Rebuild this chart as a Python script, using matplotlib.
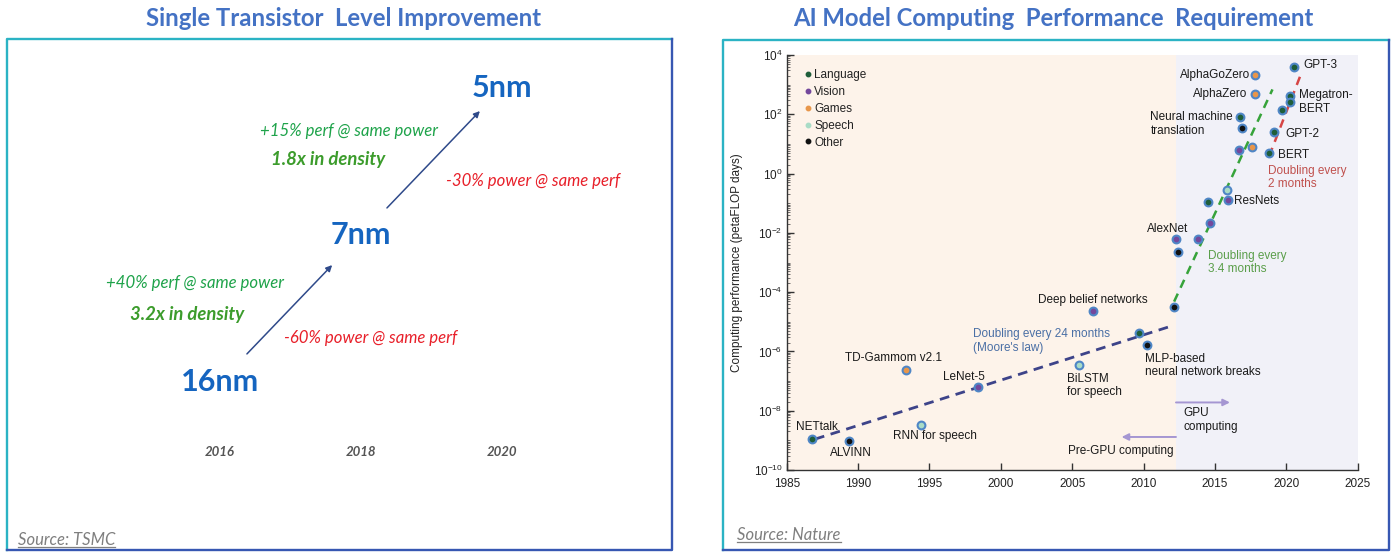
import matplotlib
matplotlib.use("Agg")
import matplotlib.pyplot as plt
from matplotlib.lines import Line2D
import numpy as np

# ---------------- data ----------------
# Left panel (TSMC)
nodes = ["16nm", "7nm", "5nm"]
node_years = [2016, 2018, 2020]
node_levels = [0, 1, 2]
perf_gain = ["+40% perf @ same power", "+15% perf @ same power"]
density_gain = ["3.2x in density", "1.8x in density"]
power_gain = ["-60% power @ same perf", "-30% power @ same perf"]
year_labels = ["2016", "2018", "2020"]

# Right panel (Nature) - petaFLOP days
language_years = [1986.79, 2009.69, 2014.50, 2016.74, 2018.80, 2019.15, 2019.71, 2020.24, 2020.24, 2020.55]
language_vals = [1.07e-9, 4.1e-6, 0.11, 83, 5.0, 26, 138, 427, 263, 4070]
vision_years = [1998.38, 2006.43, 2012.24, 2013.82, 2014.64, 2015.92, 2016.65]
vision_vals = [6.3e-8, 2.3e-5, 6.3e-3, 6.3e-3, 0.021, 0.13, 6.2]
games_years = [1993.33, 2017.58, 2017.84, 2017.79]
games_vals = [2.3e-7, 7.8, 468, 2140]
speech_years = [1994.38, 2005.45, 2015.81]
speech_vals = [3.4e-9, 3.5e-7, 0.28]
other_years = [1989.36, 2010.25, 2012.14, 2012.42, 2016.86]
other_vals = [9.8e-10, 1.66e-6, 3.2e-5, 2.3e-3, 34]

moore_years = [1986.98, 2011.71]
moore_vals = [1.1e-9, 6.6e-6]
gpu_trend_years = [2012.14, 2019.03]
gpu_trend_vals = [4.8e-5, 690]
recent_trend_years = [2018.80, 2021.06]
recent_trend_vals = [3.9, 2500]
gpu_start_year = 2012.27

categories = ["Language", "Vision", "Games", "Speech", "Other"]
cat_colors = ["#1f5e3a", "#74489c", "#e8964a", "#a9dcc6", "#111111"]

# ---------------- figure ----------------
W, H = 1394, 557
fig = plt.figure(figsize=(W / 100, H / 100), dpi=100)
plt.rcParams["mathtext.fontset"] = "custom"
plt.rcParams["mathtext.rm"] = "Liberation Sans"
plt.rcParams["mathtext.it"] = "Liberation Sans:italic"
plt.rcParams["mathtext.bf"] = "Liberation Sans:bold"


def fx(px):
    return px / W


def fy(py):
    return 1 - py / H


TEAL = "#2bb3c4"
BLUE = "#3757b2"


def frame(x0, y0, x1, y1):
    fig.add_artist(Line2D([fx(x0), fx(x0), fx(x1)], [fy(y1), fy(y0), fy(y0)],
                          color=TEAL, lw=1.7, transform=fig.transFigure))
    fig.add_artist(Line2D([fx(x0), fx(x1), fx(x1)], [fy(y1), fy(y1), fy(y0)],
                          color=BLUE, lw=1.7, transform=fig.transFigure))


frame(7, 39, 672, 550)
frame(723, 40, 1389, 550)

title_kw = dict(ha="center", va="center", fontsize=17.2, fontweight="bold",
                color="#4472c4", family="Lato")
fig.text(fx(343), fy(18), "Single Transistor  Level Improvement", **title_kw)
fig.text(fx(1053), fy(18), "AI Model Computing  Performance  Requirement", **title_kw)

# ---------------- left panel ----------------
ax1 = fig.add_axes([fx(7), fy(550), fx(672) - fx(7), fy(39) - fy(550)])
ax1.axis("off")
px_per_year = 70.5
ax1.set_xlim(2016 - (220 - 7) / px_per_year, 2016 + (672 - 220) / px_per_year)
ax1.set_ylim(-(550 - 382) / 147.0, (382 - 39) / 147.0)

for name, yr, lv in zip(nodes, node_years, node_levels):
    ax1.text(yr, lv, name, ha="center", va="center", fontsize=22, fontweight="bold",
             color="#1565c0", family="Lato")

for i in range(len(nodes) - 1):
    ax1.annotate("", xy=(node_years[i + 1], node_levels[i + 1]),
                 xytext=(node_years[i], node_levels[i]),
                 arrowprops=dict(arrowstyle="-|>", color="#2f4a8a", lw=1.1,
                                 mutation_scale=9, shrinkA=28 if i == 0 else 27,
                                 shrinkB=30 if i == 0 else 23))

perf_pos = [(2015.65, 0.671), (2017.83, 1.707)]
dens_pos = [(2015.53, 0.456), (2017.54, 1.515)]
pow_pos = [(2018.13, 0.301), (2020.44, 1.367)]
for i in range(2):
    ax1.text(*perf_pos[i], perf_gain[i], ha="center", va="center", fontsize=12.1,
             style="italic", color="#1ea34a", family="Lato")
    ax1.text(*dens_pos[i], density_gain[i], ha="center", va="center", fontsize=13.3,
             style="italic", fontweight="bold", color="#3c9c2c", family="Lato")
    ax1.text(*pow_pos[i], power_gain[i], ha="center", va="center", fontsize=12.1,
             style="italic", color="#e8202a", family="Lato")

for yr, lab in zip(node_years, year_labels):
    ax1.text(yr, -0.476, lab, ha="center", va="center", fontsize=9.5, style="italic",
             fontweight="bold", color="#555555", family="Lato")

# ---------------- right panel ----------------
FONT = "Liberation Sans"
ax2 = fig.add_axes([fx(786.7), fy(470), fx(1357.7) - fx(786.7), fy(55) - fy(470)])
ax2.set_yscale("log")
ax2.set_xlim(1985, 2025)
ax2.set_ylim(1e-10, 1e4)
ax2.axvspan(1985, gpu_start_year, color="#fdf3ea", lw=0, zorder=0)
ax2.axvspan(gpu_start_year, 2025, color="#f1f1f8", lw=0, zorder=0)
for s in ["top", "right"]:
    ax2.spines[s].set_visible(False)
for s in ["left", "bottom"]:
    ax2.spines[s].set_color("#333333")
    ax2.spines[s].set_linewidth(1.0)

ax2.set_xticks(np.arange(1985, 2026, 5))
ax2.set_xticklabels([str(y) for y in range(1985, 2026, 5)], family=FONT, fontsize=8.5)
yt = [10.0 ** e for e in range(-10, 5, 2)]
ax2.set_yticks(yt)
ax2.set_yticklabels([r"$10^{%d}$" % e for e in range(-10, 5, 2)], fontsize=8.5)
ax2.yaxis.set_minor_locator(matplotlib.ticker.LogLocator(base=10, subs=np.arange(1, 10), numticks=50))
ax2.yaxis.set_minor_formatter(matplotlib.ticker.NullFormatter())
ax2.tick_params(axis="both", which="major", direction="in", length=5, width=1, color="#333333",
                labelcolor="#222222")
ax2.tick_params(axis="x", which="major", pad=5.5)
ax2.tick_params(axis="y", which="major", pad=3)
ax2.tick_params(axis="y", which="minor", direction="in", length=2.5, width=0.6, color="#555555")
ax2.set_ylabel("Computing performance (petaFLOP days)", family=FONT, fontsize=8.5, color="#222222")
ax2.yaxis.set_label_coords(-0.0765, 0.5)

# trend lines
ax2.plot(moore_years, moore_vals, color="#3d4389", lw=2.0, dashes=(3.5, 2.4), zorder=3)
ax2.plot(gpu_trend_years, gpu_trend_vals, color="#36a33a", lw=1.8, dashes=(3.5, 2.6), zorder=3)
ax2.plot(recent_trend_years, recent_trend_vals, color="#d64545", lw=1.8, dashes=(3.5, 2.6), zorder=3)

# points
series = [(language_years, language_vals), (vision_years, vision_vals), (games_years, games_vals),
          (speech_years, speech_vals), (other_years, other_vals)]
for (xs, ys), c in zip(series, cat_colors):
    ax2.plot(xs, ys, "o", ls="none", ms=5.6, mfc=c, mec="#4f86c6", mew=1.5, zorder=5)

# legend
handles = [Line2D([], [], marker="o", ls="none", ms=3.2, mfc=c, mec=c) for c in cat_colors]
leg = ax2.legend(handles, categories, loc="upper left", bbox_to_anchor=(0.022, 0.981),
                 frameon=False, borderpad=0, handlelength=0.5, handletextpad=0.25,
                 labelspacing=0.42, prop={"family": FONT, "size": 8.5})
for t in leg.get_texts():
    t.set_color("#222222")

lab_kw = dict(textcoords="offset points", fontsize=8.5, family=FONT, color="#1a1a1a", zorder=6)
point_labels = [
    ("NETtalk", language_years[0], language_vals[0], (-11.5, 9), "left"),
    ("ALVINN", other_years[0], other_vals[0], (-14, -8.6), "left"),
    ("RNN for speech", speech_years[0], speech_vals[0], (-20, -8), "left"),
    ("TD-Gammom v2.1", games_years[0], games_vals[0], (-8.5, 8.6), "center"),
    ("LeNet-5", vision_years[0], vision_vals[0], (-9.6, 7.4), "center"),
    ("BiLSTM\nfor speech", speech_years[1], speech_vals[1], (-8.2, -14.8), "left"),
    ("Deep belief networks", vision_years[1], vision_vals[1], (0, 8.2), "center"),
    ("MLP-based\nneural network breaks", other_years[1], other_vals[1], (-1.7, -14.8), "left"),
    ("AlexNet", vision_years[2], vision_vals[2], (-5.5, 7), "center"),
    ("ResNets", vision_years[5], vision_vals[5], (4.3, -0.7), "left"),
    ("BERT", language_years[4], language_vals[4], (6, -1.7), "left"),
    ("GPT-2", language_years[5], language_vals[5], (8.4, -1.9), "left"),
    ("GPT-3", language_years[9], language_vals[9], (6.5, 1.2), "left"),
    ("Megatron-\nBERT", language_years[7], language_vals[7], (6.7, -4.7), "left"),
    ("AlphaGoZero", games_years[3], games_vals[3], (-3.6, 0), "right"),
    ("AlphaZero", games_years[2], games_vals[2], (-6, 0), "right"),
    ("Neural machine\ntranslation", language_years[3], language_vals[3], (-64.3, -5), "left"),
]
for txt, x, y, off, ha in point_labels:
    ax2.annotate(txt, xy=(x, y), xytext=off, ha=ha, va="center", multialignment="left",
                 linespacing=1.2, **lab_kw)

ax2.text(1998.03, 2.3e-6, "Doubling every 24 months\n(Moore's law)", ha="left", va="center",
         fontsize=8.5, family=FONT, color="#4a6fa5", linespacing=1.2)
ax2.text(2014.48, 1.0e-3, "Doubling every\n3.4 months", ha="left", va="center",
         fontsize=8.5, family=FONT, color="#5a9e4a", linespacing=1.2)
ax2.text(2018.73, 0.74, "Doubling every\n2 months", ha="left", va="center",
         fontsize=8.5, family=FONT, color="#c0504d", linespacing=1.2)
ax2.text(2012.82, 4.9e-9, "GPU\ncomputing", ha="left", va="center",
         fontsize=8.5, family=FONT, color="#1a1a1a", linespacing=1.2)
ax2.text(2012.07, 4.4e-10, "Pre-GPU computing", ha="right", va="center",
         fontsize=8.5, family=FONT, color="#1a1a1a")
arrow_kw = dict(arrowstyle="-|>", color="#a596d2", lw=1.4, mutation_scale=10, shrinkA=0, shrinkB=0)
ax2.annotate("", xy=(2016.05, 1.9e-8), xytext=(gpu_start_year, 1.9e-8), arrowprops=arrow_kw)
ax2.annotate("", xy=(2008.46, 1.3e-9), xytext=(gpu_start_year, 1.3e-9), arrowprops=arrow_kw)

# sources
src_kw = dict(ha="left", va="center", fontsize=12, style="italic", color="#7f7f7f", family="Lato")
s1 = fig.text(fx(18), fy(540), "Source: TSMC", **src_kw)
s2 = fig.text(fx(737), fy(535), "Source: Nature", **src_kw)
fig.canvas.draw()
r = fig.canvas.get_renderer()
for s in (s1, s2):
    bb = s.get_window_extent(r)
    fig.add_artist(Line2D([bb.x0 / W, bb.x1 / W], [(bb.y0 + 1) / H] * 2, color="#7f7f7f",
                          lw=0.9, transform=fig.transFigure))

fig.savefig("out.png", dpi=100, facecolor="white")
